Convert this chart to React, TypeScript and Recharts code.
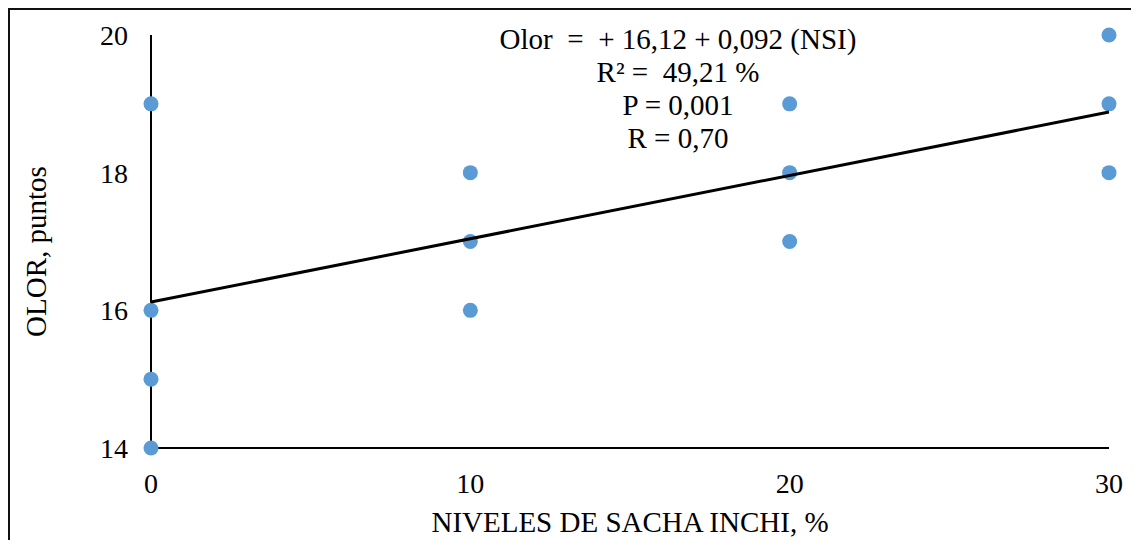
import React from 'react';
import { ScatterChart, Scatter, XAxis, YAxis } from 'recharts';

// observed points (NIVELES DE SACHA INCHI, % vs OLOR, puntos)
const levels = [0, 0, 0, 0, 10, 10, 10, 20, 20, 20, 30, 30, 30];
const olor = [19, 16, 15, 14, 18, 17, 16, 19, 18, 17, 20, 19, 18];

// regression printed on the chart
const intercept = 16.12;
const slope = 0.092;
const trendX = [0, 30];

const xTicks = [0, 10, 20, 30];
const yTicks = [14, 16, 18, 20];

const equationLines = ['Olor  =  + 16,12 + 0,092 (NSI)', 'R² =  49,21 %', 'P = 0,001', 'R = 0,70'];

const points = levels.map((x, i) => ({ x, y: olor[i] }));
const trend = trendX.map(x => ({ x, y: intercept + slope * x }));

const FONT = '"Liberation Serif", "Times New Roman", serif';

const YTitle = (props: any) => {
    const { x, y, height } = props.viewBox;
    const cx = x + 26;
    const cy = y + height / 2 + 10;
    return (
        <text x={cx} y={cy} dy="0.35em" textAnchor="middle" transform={`rotate(-90, ${cx}, ${cy})`}
            fill="#000" fontSize={29} fontFamily={FONT}>
            OLOR, puntos
        </text>
    );
};

const XTitle = (props: any) => {
    const { x, y, width } = props.viewBox;
    return (
        <text x={x + width / 2} y={y + 74} dy="0.35em" textAnchor="middle" fill="#000" fontSize={29} fontFamily={FONT}>
            NIVELES DE SACHA INCHI, %
        </text>
    );
};

const App: React.FC = () => {
    return (
        <div style={{ position: 'relative', width: 1126, height: 530, border: '2px solid #111', fontFamily: FONT }}>
            <style>{'html,body{overflow:hidden}'}</style>
            <ScatterChart width={1126} height={530} margin={{ top: 25, right: 27, left: 0, bottom: 0 }}>
                <XAxis
                    type="number"
                    dataKey="x"
                    domain={[0, 30]}
                    ticks={xTicks}
                    height={92}
                    tickLine={false}
                    tickSize={0}
                    tickMargin={25}
                    axisLine={{ stroke: '#000', strokeWidth: 2 }}
                    tick={{ fill: '#000', fontSize: 28, fontFamily: FONT }}
                    label={<XTitle />}
                />
                <YAxis
                    type="number"
                    dataKey="y"
                    domain={[14, 20]}
                    ticks={yTicks}
                    width={141}
                    tickLine={false}
                    tickSize={0}
                    tickMargin={23}
                    axisLine={{ stroke: '#000', strokeWidth: 2 }}
                    tick={{ fill: '#000', fontSize: 28, fontFamily: FONT }}
                    label={<YTitle />}
                />
                <Scatter data={points} fill="#5B9BD5" shape={(p: any) => <circle cx={p.cx} cy={p.cy} r={7.5} fill="#5B9BD5" />} isAnimationActive={false} />
                <Scatter data={trend} line={{ stroke: '#000', strokeWidth: 3 }} shape={() => <g />} isAnimationActive={false} />
            </ScatterChart>
            <div style={{ position: 'absolute', left: 668, top: 13, transform: 'translateX(-50%)', textAlign: 'center', fontSize: 29, lineHeight: '33px', color: '#000', whiteSpace: 'pre' }}>
                {equationLines.map((l, i) => <div key={i}>{l}</div>)}
            </div>
        </div>
    );
};

export default App;
